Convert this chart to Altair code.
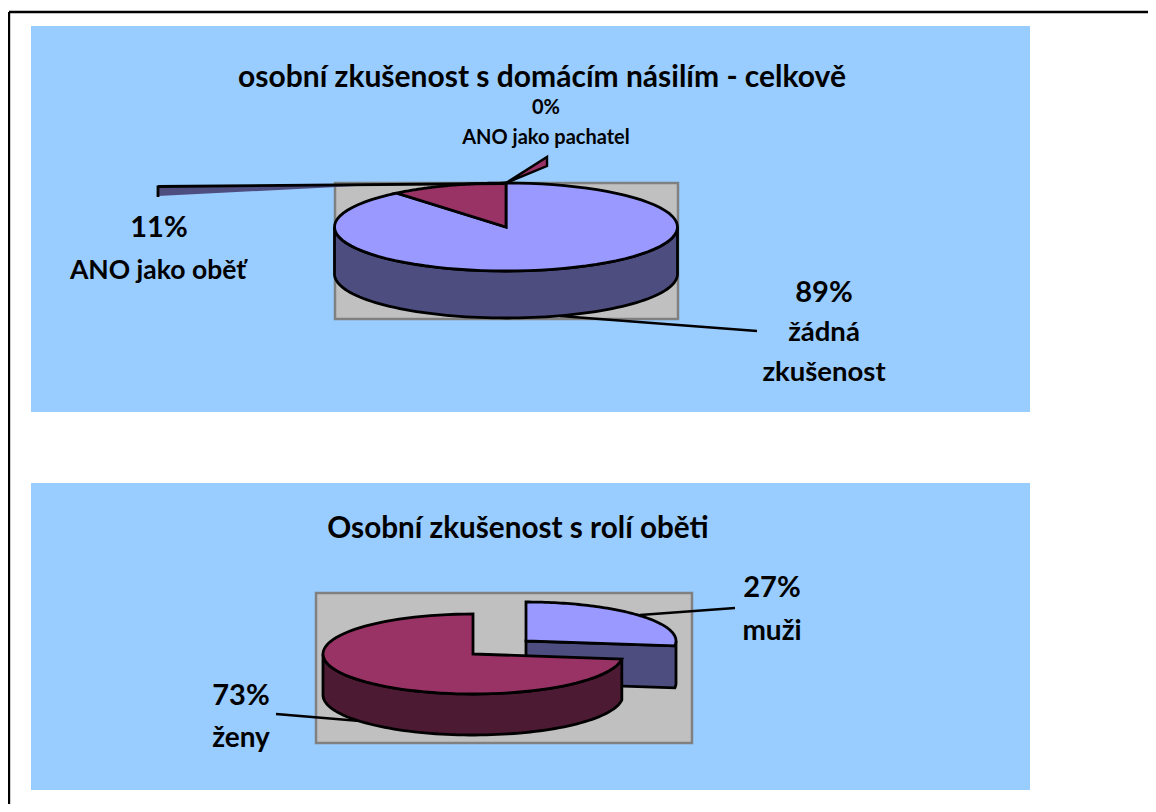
import math
import altair as alt
import pandas as pd

# ---- values
overall_labels = ["žádná zkušenost", "ANO jako oběť", "ANO jako pachatel"]
overall_pct = [89, 11, 0]
victim_labels = ["muži", "ženy"]
victim_pct = [27, 73]

LILAC, LILAC_DK = "#9999FF", "#4D4D80"
WINE, WINE_DK = "#993366", "#4D1A33"
SKY, GREY, GREY_LN = "#99CCFF", "#C0C0C0", "#808080"
FONT = "Lato"

xs = alt.Scale(domain=[8, 1148])
ys = alt.Scale(domain=[804, 8])


def arc(cx, cy, rx, ry, a0, a1, dy=0, n=80):
    out = []
    for i in range(n + 1):
        t = math.radians(a0 + (a1 - a0) * i / n)
        out.append((cx + rx * math.sin(t), cy - ry * math.cos(t) + dy))
    return out


def poly(points, fill, stroke="black", sw=2.8):
    df = pd.DataFrame(points, columns=["x", "y"])
    df["i"] = range(len(df))
    mark = dict(fill=fill, interpolate="linear-closed", strokeJoin="miter", clip=False)
    mark.update(dict(stroke=stroke, strokeWidth=sw) if stroke else dict(strokeWidth=0))
    return alt.Chart(df).mark_line(**mark).encode(
        x=alt.X("x:Q", scale=xs, axis=None),
        y=alt.Y("y:Q", scale=ys, axis=None),
        order="i:Q",
    )


def box(x0, y0, x1, y1, fill, stroke=None, sw=0):
    df = pd.DataFrame([dict(x=x0, x2=x1, y=y0, y2=y1)])
    kw = dict(stroke=stroke, strokeWidth=sw) if stroke else {}
    return alt.Chart(df).mark_rect(fill=fill, **kw).encode(
        x=alt.X("x:Q", scale=xs, axis=None), x2="x2:Q",
        y=alt.Y("y:Q", scale=ys, axis=None), y2="y2:Q",
    )


def seg(p0, p1, sw=2):
    df = pd.DataFrame([p0, p1], columns=["x", "y"])
    df["i"] = range(2)
    return alt.Chart(df).mark_line(stroke="black", strokeWidth=sw).encode(
        x=alt.X("x:Q", scale=xs, axis=None),
        y=alt.Y("y:Q", scale=ys, axis=None),
        order="i:Q",
    )


def label(txt, x, y, size, baseline="middle"):
    df = pd.DataFrame([dict(x=x, y=y, t=txt)])
    return alt.Chart(df).mark_text(
        font=FONT, fontWeight="bold", fontSize=size, color="black",
        align="center", baseline=baseline,
    ).encode(
        x=alt.X("x:Q", scale=xs, axis=None),
        y=alt.Y("y:Q", scale=ys, axis=None),
        text="t:N",
    )


layers = [
    box(31, 26, 1030, 412, SKY),
    box(31, 483, 1030, 790, SKY),
    seg((9, 12), (1148, 12), 2.4),
    seg((9, 12), (9, 804), 2.4),
]

# ---- upper pie
layers.append(box(335, 183, 678, 319, GREY, GREY_LN, 2.5))
cx, cy, rx, ry, depth = 506, 227, 171.5, 44, 47
a_none = overall_pct[0] * 3.6
layers.append(seg((560, 316), (757, 331), 2.4))
layers.append(poly(arc(cx, cy, rx, ry, 90, 270) + arc(cx, cy, rx, ry, 270, 90, depth), LILAC_DK))
layers.append(poly([(cx, cy)] + arc(cx, cy, rx, ry, 0, a_none), LILAC))
layers.append(poly([(cx, cy)] + arc(cx, cy, rx, ry, a_none, 360), WINE))
layers.append(poly([(395, 184), (158, 186.5), (158, 196)], LILAC_DK, stroke=None))
layers.append(seg((158, 186.5), (506, 183.5), 2.8))
layers.append(seg((158, 185.5), (158, 197), 2.8))
layers.append(poly([(506, 183), (547, 157), (547, 166)], WINE, sw=2.4))

# ---- lower pie
layers.append(box(316, 593, 692, 743, GREY, GREY_LN, 2.5))
a_men = victim_pct[0] * 3.6
bx, by, brx, bry, bd = 526, 641, 150, 39, 42
mx, my, mrx, mry, md = 473, 654, 150, 40, 41
layers.append(seg((640, 615), (735, 608), 2.4))
layers.append(seg((276, 714), (360, 721), 2.4))
layers.append(poly([(bx, by), (bx, by + bd)] + arc(bx, by, brx, bry, a_men, 90, bd)
                   + arc(bx, by, brx, bry, 90, a_men), LILAC_DK))
layers.append(poly([(bx, by)] + arc(bx, by, brx, bry, 0, a_men), LILAC))
layers.append(poly(arc(mx, my, mrx, mry, a_men, 270) + arc(mx, my, mrx, mry, 270, a_men, md), WINE_DK))
layers.append(poly([(mx, my)] + arc(mx, my, mrx, mry, a_men, 360), WINE))

# ---- texts
layers += [
    label("osobní zkušenost s domácím násilím - celkově", 542, 78, 30),
    label(f"{overall_pct[2]}%", 546, 108, 20),
    label(overall_labels[2], 546, 138, 20),
    label(f"{overall_pct[1]}%", 159, 228, 29),
    label(overall_labels[1], 158, 271, 26.5),
    label(f"{overall_pct[0]}%", 824, 293, 29),
    label("žádná", 824, 333, 27.5),
    label("zkušenost", 824, 373, 27.5),
    label("Osobní zkušenost s rolí oběti", 518, 529, 29.7),
    label(f"{victim_pct[0]}%", 772, 588, 29),
    label(victim_labels[0], 772, 632, 28),
    label(f"{victim_pct[1]}%", 241, 696, 29),
    label(victim_labels[1], 241, 739, 28),
]

chart = alt.layer(*layers).properties(
    width=1140, height=796, padding=0, background="white",
    autosize=alt.AutoSizeParams(type="none"),
).configure_view(stroke=None)

chart.save("out.html", embed_options={"renderer": "svg", "actions": False})
